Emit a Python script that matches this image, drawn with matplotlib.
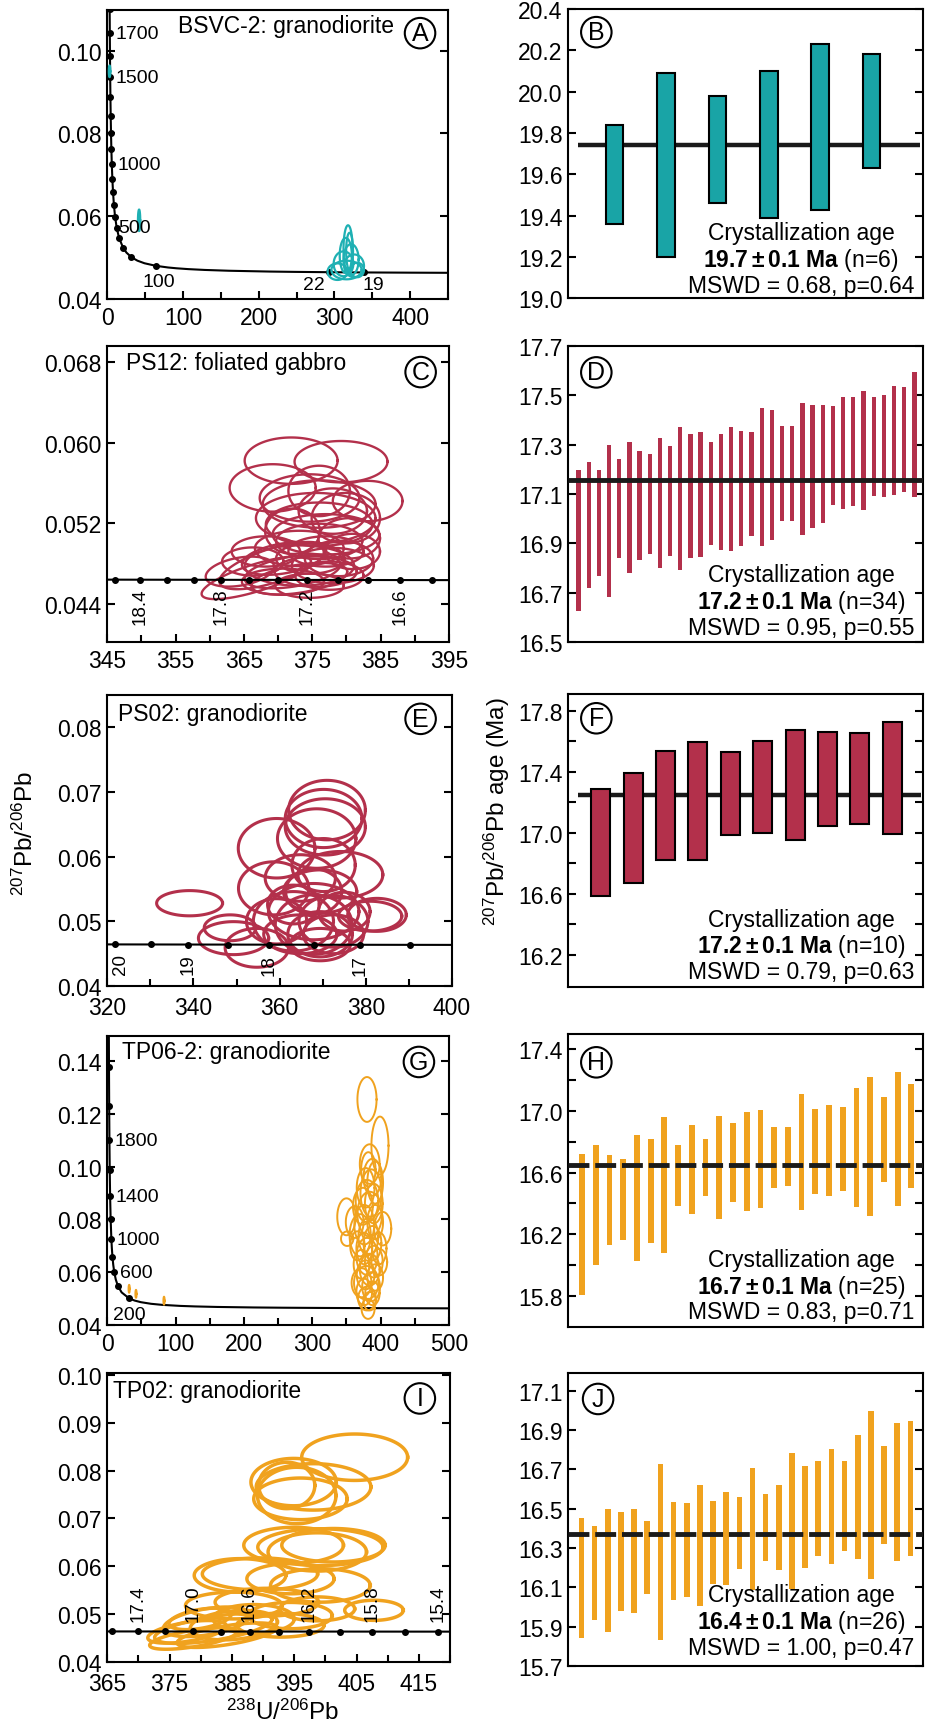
import matplotlib.pyplot as plt
import numpy as np
from matplotlib.ticker import FixedLocator

plt.rcParams['font.family'] = ['Liberation Sans', 'DejaVu Sans']
plt.rcParams['mathtext.fontset'] = 'custom'
plt.rcParams['mathtext.rm'] = 'Liberation Sans'
plt.rcParams['mathtext.it'] = 'Liberation Sans:italic'
plt.rcParams['mathtext.bf'] = 'Liberation Sans:bold'

TEAL = '#19a4a6'
RED = '#b3304b'
ORANGE = '#f0a21e'

# decay constants -> Tera-Wasserburg concordia
L238 = 1.55125e-10
L235 = 9.8485e-10
U85 = 137.88


def tw(ages):
    t = np.asarray(ages, dtype=float) * 1e6
    e8 = np.expm1(L238 * t)
    return 1 / e8, np.expm1(L235 * t) / e8 / U85


# ---------------- data ----------------
# A: BSVC-2
a_curve = [14, 16, 19, 22, 26, 30, 40, 50, 60, 70, 80, 100, 130, 160, 200, 250, 300, 400, 500,
           600, 700, 800, 900, 1000, 1100, 1200, 1300, 1400, 1500, 1600, 1700, 1800, 1900, 2000]
a_dots = [19, 22, 100, 200, 300, 400, 500, 600, 700, 800, 900, 1000, 1100, 1200, 1300, 1400,
          1500, 1600, 1700, 1800]
a_ell = [(318, 0.0520, 12, 0.0116, 0), (320, 0.0515, 9, 0.0090, 0), (315, 0.0505, 16, 0.0085, 0),
         (322, 0.0495, 20, 0.0075, 0), (312, 0.0485, 26, 0.0060, 0), (326, 0.0480, 26, 0.0055, 0),
         (304, 0.0466, 26, 0.0040, 0), (316, 0.0470, 40, 0.0045, 0), (330, 0.0470, 18, 0.0035, 0),
         (42, 0.0590, 3, 0.0052, 0), (3, 0.0950, 2, 0.0028, 0)]
a_xticks = [0, 100, 200, 300, 400]
a_xminor = [50, 150, 250, 350, 450]
a_yticks = [0.04, 0.06, 0.08, 0.10]

# B
b_top = [19.84, 20.09, 19.98, 20.10, 20.23, 20.18]
b_bot = [19.36, 19.20, 19.46, 19.39, 19.43, 19.63]
b_mean = 19.74
b_yticks = [19.0, 19.2, 19.4, 19.6, 19.8, 20.0, 20.2, 20.4]

# C: PS12
c_curve = [18.8, 18.6, 18.4, 18.2, 18.0, 17.8, 17.6, 17.4, 17.2, 17.0, 16.8, 16.6, 16.4, 16.2]
c_dots = [18.6, 18.4, 18.2, 18.0, 17.8, 17.6, 17.4, 17.2, 17.0, 16.8, 16.6, 16.4]
c_ell = [(371.9, 0.0582, 13.6, 0.0046, 0), (379.2, 0.0581, 13.6, 0.0041, 0),
         (369.2, 0.0555, 12.6, 0.0047, 0), (383.1, 0.0542, 10.2, 0.0040, 0),
         (374.6, 0.0545, 14.6, 0.0047, 0), (376.0, 0.0539, 16.5, 0.0047, 0),
         (375.5, 0.0525, 17.5, 0.0050, 0), (376.0, 0.0519, 15.6, 0.0043, 0),
         (377.0, 0.0509, 15.6, 0.0040, 0), (376.0, 0.0502, 12.6, 0.0035, 0),
         (373.1, 0.0495, 13.0, 0.0035, 0), (377.0, 0.0492, 11.0, 0.0030, 0),
         (369.2, 0.0478, 15.6, 0.0035, 0.0002), (366.8, 0.0466, 16.0, 0.0028, 0.0002),
         (372.1, 0.0472, 14.0, 0.0030, 0.0001), (373.1, 0.0465, 14.0, 0.0028, 0.0001),
         (375.5, 0.0472, 12.0, 0.0030, 0), (378.0, 0.0478, 12.0, 0.0035, 0),
         (378.9, 0.0485, 10.0, 0.0035, 0), (370.7, 0.0485, 12.0, 0.0030, 0.0001),
         (364.4, 0.0472, 10.0, 0.0028, 0.0001), (373.1, 0.0478, 16.0, 0.0040, 0),
         (370.7, 0.0462, 12.0, 0.0026, 0), (374.6, 0.0458, 10.0, 0.0024, 0),
         (380.4, 0.0505, 9.0, 0.0040, 0), (378.0, 0.0532, 10.0, 0.0045, 0),
         (376.0, 0.0552, 9.0, 0.0050, 0), (379.9, 0.0525, 10.0, 0.0050, 0),
         (372.1, 0.0512, 8.0, 0.0045, 0), (368.2, 0.0492, 10.0, 0.0030, 0),
         (380.9, 0.0492, 8.0, 0.0035, 0), (374.7, 0.0485, 10.0, 0.0030, 0),
         (366.3, 0.0482, 9.0, 0.0028, 0), (377.5, 0.0468, 10.0, 0.0028, 0)]
c_xticks = [345, 355, 365, 375, 385, 395]
c_xminor = [350, 360, 370, 380, 390]
c_yticks = [0.044, 0.052, 0.060, 0.068]

# D
d_top = [17.197, 17.231, 17.198, 17.298, 17.241, 17.311, 17.272, 17.262, 17.326, 17.295,
         17.373, 17.341, 17.349, 17.309, 17.341, 17.372, 17.355, 17.352, 17.446, 17.441,
         17.376, 17.376, 17.468, 17.461, 17.460, 17.457, 17.492, 17.492, 17.515, 17.492,
         17.500, 17.538, 17.534, 17.592]
d_bot = [16.628, 16.718, 16.770, 16.682, 16.840, 16.779, 16.834, 16.857, 16.799, 16.850,
         16.793, 16.840, 16.846, 16.895, 16.875, 16.868, 16.891, 16.929, 16.891, 16.915,
         16.989, 16.992, 16.934, 16.962, 16.981, 17.057, 17.039, 17.053, 17.035, 17.093,
         17.086, 17.097, 17.107, 17.086]
d_mean = 17.156
d_yticks = [16.5, 16.7, 16.9, 17.1, 17.3, 17.5, 17.7]

# E: PS02
e_curve = [20.2, 20.0, 19.5, 19.0, 18.5, 18.0, 17.5, 17.0, 16.5, 16.0]
e_dots = [20.0, 19.5, 19.0, 18.5, 18.0, 17.5, 17.0, 16.5]
e_ell = [(339.1, 0.0528, 15.3, 0.0039, 0), (371.0, 0.0672, 17.8, 0.0092, 0),
         (370.2, 0.0659, 17.8, 0.0090, 0), (370.6, 0.0646, 18.6, 0.0087, 0),
         (368.6, 0.0628, 18.2, 0.0092, 0), (359.3, 0.0613, 17.8, 0.0092, 0),
         (370.2, 0.0587, 14.7, 0.0082, 0), (374.1, 0.0572, 19.7, 0.0072, 0),
         (358.6, 0.0551, 16.3, 0.0082, 0), (364.8, 0.0567, 16.3, 0.0072, 0),
         (369.4, 0.0546, 17.0, 0.0067, 0), (367.9, 0.0515, 21.0, 0.0087, 0),
         (382.6, 0.0510, 13.6, 0.0051, 0), (381.0, 0.0508, 14.7, 0.0046, 0),
         (349.3, 0.0474, 16.3, 0.0051, 0), (348.5, 0.0490, 12.0, 0.0040, 0),
         (354.7, 0.0459, 14.7, 0.0060, 0), (363.2, 0.0500, 18.6, 0.0092, 0),
         (367.9, 0.0495, 17.8, 0.0092, 0), (372.5, 0.0500, 16.0, 0.0080, 0),
         (364.8, 0.0480, 17.0, 0.0060, 0), (369.4, 0.0480, 15.0, 0.0070, 0),
         (359.3, 0.0500, 14.0, 0.0070, 0), (372.5, 0.0480, 14.0, 0.0060, 0),
         (367.9, 0.0546, 13.0, 0.0070, 0), (375.0, 0.0515, 12.0, 0.0060, 0),
         (363.2, 0.0526, 12.0, 0.0060, 0), (369.4, 0.0464, 14.0, 0.0050, 0)]
e_xticks = [320, 340, 360, 380, 400]
e_xminor = [330, 350, 370, 390]
e_yticks = [0.04, 0.05, 0.06, 0.07, 0.08]

# F
f_top = [17.289, 17.395, 17.539, 17.598, 17.532, 17.604, 17.676, 17.661, 17.656, 17.728]
f_bot = [16.588, 16.670, 16.825, 16.825, 16.984, 17.001, 16.953, 17.045, 17.056, 16.990]
f_mean = 17.245
f_yticks = [16.2, 16.6, 17.0, 17.4, 17.8]
f_yminor = [16.4, 16.8, 17.2, 17.6]

# G: TP06-2
g_curve = [12.8, 14, 16, 18, 20, 25, 30, 40, 50, 60, 80, 100, 130, 160, 200, 300, 400, 500, 600,
           700, 800, 900, 1000, 1200, 1400, 1600, 1800, 2000, 2200, 2400, 2600]
g_dots = [200, 400, 600, 800, 1000, 1200, 1400, 1600, 1800, 2000, 2200]
g_ell = [(380, 0.1255, 28, 0.0170, 0), (399, 0.1080, 25, 0.0220, 0), (384, 0.1010, 29, 0.0150, 0),
         (388, 0.0960, 26, 0.0140, 0), (382, 0.0990, 21, 0.0130, 0), (392, 0.0940, 23, 0.0160, 0),
         (378, 0.0920, 26, 0.0150, 0), (386, 0.0900, 31, 0.0180, 0), (380, 0.0870, 33, 0.0160, 0),
         (374, 0.0850, 29, 0.0140, 0), (390, 0.0860, 26, 0.0150, 0), (350, 0.0810, 27, 0.0140, 0),
         (362, 0.0790, 26, 0.0120, 0), (384, 0.0820, 36, 0.0170, 0), (376, 0.0780, 29, 0.0150, 0),
         (392, 0.0790, 23, 0.0130, 0), (403, 0.0765, 25, 0.0127, 0), (351, 0.0727, 18, 0.0055, 0),
         (370, 0.0740, 31, 0.0160, 0), (382, 0.0735, 29, 0.0140, 0), (388, 0.0710, 26, 0.0130, 0),
         (376, 0.0690, 23, 0.0120, 0), (366, 0.0700, 21, 0.0110, 0), (398, 0.0690, 21, 0.0120, 0),
         (380, 0.0660, 31, 0.0140, 0), (390, 0.0640, 26, 0.0120, 0), (398, 0.0638, 23, 0.0100, 0),
         (372, 0.0630, 23, 0.0110, 0), (384, 0.0610, 29, 0.0120, 0), (378, 0.0590, 26, 0.0110, 0),
         (392, 0.0580, 23, 0.0100, 0), (372, 0.0560, 29, 0.0110, 0), (379, 0.0560, 36, 0.0127, 0),
         (386, 0.0545, 26, 0.0110, 0), (376, 0.0525, 23, 0.0100, 0), (388, 0.0520, 21, 0.0090, 0),
         (380, 0.0500, 26, 0.0090, 0), (384, 0.0490, 18, 0.0070, 0), (381.6, 0.0461, 19, 0.0076, 0),
         (32, 0.0537, 1.8, 0.0030, 0), (42, 0.0518, 1.8, 0.0030, 0), (83, 0.0492, 1.8, 0.0030, 0)]
g_xticks = [0, 100, 200, 300, 400, 500]
g_xminor = [50, 150, 250, 350, 450]
g_yticks = [0.04, 0.06, 0.08, 0.10, 0.12, 0.14]

# H
h_top = [16.721, 16.778, 16.713, 16.689, 16.847, 16.819, 16.962, 16.776, 16.906, 16.819,
         16.966, 16.919, 16.995, 17.005, 16.897, 16.893, 17.107, 17.014, 17.036, 17.025,
         17.151, 17.220, 17.090, 17.255, 17.172]
h_bot = [15.807, 15.997, 16.127, 16.160, 16.028, 16.143, 16.078, 16.385, 16.331, 16.450,
         16.301, 16.407, 16.349, 16.370, 16.500, 16.511, 16.355, 16.461, 16.450, 16.479,
         16.375, 16.316, 16.539, 16.381, 16.500]
h_mean = 16.646
h_yticks = [15.8, 16.2, 16.6, 17.0, 17.4]
h_yminor = [16.0, 16.4, 16.8, 17.2]

# I: TP02
i_curve = [17.7, 17.6, 17.4, 17.2, 17.0, 16.8, 16.6, 16.4, 16.2, 16.0, 15.8, 15.6, 15.4, 15.3]
i_dots = [17.6, 17.4, 17.2, 17.0, 16.8, 16.6, 16.4, 16.2, 16.0, 15.8, 15.6, 15.4]
i_ell = [(404.7, 0.0828, 17.0, 0.0097, 0), (394.9, 0.0776, 13.7, 0.0099, 0),
         (398.1, 0.0766, 18.4, 0.0097, 0), (396.0, 0.0741, 15.0, 0.0087, 0),
         (395.4, 0.0748, 12.6, 0.0118, 0), (393.8, 0.0769, 9.0, 0.0097, 0),
         (399.2, 0.0640, 20.1, 0.0077, 0), (401.3, 0.0644, 16.6, 0.0070, 0),
         (398.7, 0.0630, 15.8, 0.0080, 0), (394.9, 0.0644, 16.0, 0.0075, 0),
         (386.3, 0.0581, 14.7, 0.0070, 0), (389.5, 0.0584, 18.5, 0.0067, 0),
         (394.4, 0.0574, 14.0, 0.0063, 0), (399.2, 0.0560, 16.0, 0.0070, 0),
         (407.8, 0.0508, 9.4, 0.0042, 0), (385.3, 0.0518, 15.5, 0.0056, 0),
         (390.6, 0.0525, 16.6, 0.0058, 0), (394.4, 0.0497, 13.4, 0.0055, 0),
         (381.0, 0.0484, 14.0, 0.0055, 0.0002), (382.0, 0.0470, 18.8, 0.0050, 0.0002),
         (377.8, 0.0463, 12.6, 0.0040, 0.0002), (385.3, 0.0477, 14.0, 0.0060, 0.0001),
         (388.5, 0.0490, 13.0, 0.0060, 0), (398.7, 0.0511, 12.0, 0.0050, 0),
         (392.8, 0.0477, 14.0, 0.0050, 0), (379.9, 0.0490, 10.0, 0.0040, 0.0002),
         (384.2, 0.0456, 16.0, 0.0040, 0.0002), (378.8, 0.0449, 14.0, 0.0035, 0.0002)]
i_xticks = [365, 375, 385, 395, 405, 415]
i_xminor = [370, 380, 390, 400, 410, 420]
i_yticks = [0.04, 0.05, 0.06, 0.07, 0.08, 0.09, 0.10]

# J
j_top = [16.453, 16.411, 16.501, 16.482, 16.498, 16.440, 16.729, 16.533, 16.528, 16.622,
         16.540, 16.586, 16.562, 16.709, 16.574, 16.623, 16.782, 16.720, 16.744, 16.805,
         16.744, 16.875, 16.998, 16.822, 16.938, 16.945]
j_bot = [15.843, 15.936, 15.872, 15.982, 15.969, 16.067, 15.834, 16.038, 16.050, 16.003,
         16.118, 16.110, 16.191, 16.084, 16.232, 16.190, 16.093, 16.200, 16.258, 16.217,
         16.285, 16.243, 16.144, 16.322, 16.232, 16.260]
j_mean = 16.373
j_yticks = [15.7, 15.9, 16.1, 16.3, 16.5, 16.7, 16.9, 17.1]

# ---------------- figure ----------------
fig = plt.figure(figsize=(9.25, 17.24), dpi=100)
FS = 16.5


def frame(ax):
    for s in ax.spines.values():
        s.set_linewidth(1.5)
    ax.tick_params(which='both', direction='in', labelsize=FS, width=1.5, pad=4)
    ax.tick_params(which='major', length=6)
    ax.tick_params(which='minor', length=5)


def scatter_panel(rect, curve, dots, ells, color, lw, xlim, ylim, xt, xm, yt, fmt, curve_top,
                  xpad=5):
    ax = fig.add_axes(rect)
    frame(ax)
    cx, cy = tw(curve)
    zc = 5 if curve_top else 2
    ax.plot(cx, cy, color='black', lw=1.5, zorder=zc)
    dx, dy = tw(dots)
    ax.plot(dx, dy, 'o', color='black', ms=4, zorder=zc)
    t = np.linspace(0, 2 * np.pi, 120)
    for x0, y0, w, h, k in ells:
        ex = w / 2 * np.cos(t)
        ax.plot(x0 + ex, y0 + h / 2 * np.sin(t) + k * ex, color=color, lw=lw, zorder=4)
    ax.set_xlim(xlim)
    ax.set_ylim(ylim)
    ax.xaxis.set_major_locator(FixedLocator(xt))
    ax.xaxis.set_minor_locator(FixedLocator(xm))
    ax.set_xticklabels([str(v) for v in xt])
    ax.yaxis.set_major_locator(FixedLocator(yt))
    ax.set_yticklabels([fmt.format(v) for v in yt])
    ax.tick_params(left=True, right=True, top=False, bottom=True, which='both')
    ax.tick_params(axis='x', pad=xpad)
    return ax


def bar_panel(rect, top, bot, mean, color, width, xlim, ylim, yt, ym, boxed, dashed, line_from):
    ax = fig.add_axes(rect)
    frame(ax)
    top = np.array(top)
    bot = np.array(bot)
    x = np.arange(1, len(top) + 1)
    if boxed:
        ax.bar(x, top - bot, bottom=bot, width=width, color=color, edgecolor='black',
               linewidth=1.5, zorder=3)
        ax.hlines(mean, line_from, xlim[1] - 0.05, color='#1a1a1a', lw=3.2, zorder=2)
    else:
        ax.bar(x, top - bot, bottom=bot, width=width, color=color, linewidth=0, zorder=2)
        ls = (0, (4.3, 1.2)) if dashed else '-'
        ax.hlines(mean, xlim[0], xlim[1], color='#1a1a1a', lw=3.5, linestyle=ls, zorder=3)
    ax.set_xlim(xlim)
    ax.set_ylim(ylim)
    ax.set_xticks([])
    ax.yaxis.set_major_locator(FixedLocator(yt))
    ax.yaxis.set_minor_locator(FixedLocator(ym))
    ax.set_yticklabels(['{:.1f}'.format(v) for v in yt])
    ax.tick_params(left=True, right=True, which='both')
    ax.tick_params(which='minor', length=6)
    return ax


def circ(ax, s, x, y):
    ax.text(x, y, s, transform=ax.transAxes, ha='center', va='center', fontsize=18,
            bbox=dict(boxstyle='circle,pad=0.13', fc='none', ec='black', lw=1.5), zorder=10)


def title(ax, s, x, y):
    ax.text(x, y, s, transform=ax.transAxes, ha='left', va='center', fontsize=FS, zorder=10)


def age_block(ax, ys, age, n, mswd):
    ax.text(0.656, ys[0], 'Crystallization age', transform=ax.transAxes, ha='center',
            va='center', fontsize=FS, zorder=10)
    ax.text(0.656, ys[1], r'$\mathbf{' + age + r' \pm 0.1\ Ma}$ (n=' + n + ')',
            transform=ax.transAxes, ha='center', va='center', fontsize=FS, zorder=10)
    ax.text(0.656, ys[2], mswd, transform=ax.transAxes, ha='center', va='center',
            fontsize=FS, zorder=10)


def age_labels(ax, items, size, rot=0):
    for age, dx, dy, ha in items:
        x, y = tw(age)
        ax.annotate(str(age), xy=(x, y), xytext=(dx, dy), textcoords='offset points',
                    ha=ha, va='center', fontsize=size, rotation=rot, zorder=6)


L = 107.3 / 925
R = 568.3 / 925

# A
axA = scatter_panel([L, 0.8260, 0.3683, 0.1676], a_curve, a_dots, a_ell, '#1eb0b3', 1.6,
                    (0, 450), (0.04, 0.1098), a_xticks, a_xminor, a_yticks, '{:.2f}', False)
age_labels(axA, [(1700, 4, 0, 'left'), (1500, 4, 0, 'left'), (1000, 4, 0, 'left'),
                 (500, 1, 0, 'left'), (100, 2.5, -11.5, 'center'), (22, -11, -8.5, 'center'),
                 (19, 7, -8.5, 'center')], 14)
title(axA, 'BSVC-2: granodiorite', 0.208, 0.945)
circ(axA, 'A', 0.918, 0.92)

# B
axB = bar_panel([R, 0.8263, 0.3835, 0.1679], b_top, b_bot, b_mean, TEAL, 0.34, (0.1, 7.0),
                (19.0, 20.4), b_yticks, [], True, False, 0.29)
circ(axB, 'B', 0.079, 0.92)
age_block(axB, (0.228, 0.135, 0.045), '19.7', '6', 'MSWD = 0.68, p=0.64')

# C
axC = scatter_panel([L, 0.6269, 0.3694, 0.1720], c_curve, c_dots, c_ell, RED, 1.7,
                    (345, 395), (0.0402, 0.0696), c_xticks, c_xminor, c_yticks, '{:.3f}', True)
age_labels(axC, [(18.4, 0, -18.5, 'center'), (17.8, 0, -18.5, 'center'),
                 (17.2, 0, -18.5, 'center'), (16.6, 0, -18.5, 'center')], 13.5, rot=90)
title(axC, 'PS12: foliated gabbro', 0.055, 0.945)
circ(axC, 'C', 0.917, 0.911)

# D
axD = bar_panel([R, 0.6269, 0.3835, 0.1720], d_top, d_bot, d_mean, RED, 0.42, (0, 34.85),
                (16.5, 17.7), d_yticks, [], False, False, 0)
circ(axD, 'D', 0.079, 0.91)
age_block(axD, (0.227, 0.137, 0.051), '17.2', '34', 'MSWD = 0.95, p=0.55')

# E
axE = scatter_panel([L, 0.4275, 0.3726, 0.1688], e_curve, e_dots, e_ell, RED, 2.2,
                    (320, 400), (0.04, 0.085), e_xticks, e_xminor, e_yticks, '{:.2f}', True,
                    xpad=7)
age_labels(axE, [(20, 3.5, -14, 'center'), (19, 0, -14, 'center'), (18, 0, -14, 'center'),
                 (17, 0, -14, 'center')], 13.5, rot=90)
title(axE, 'PS02: granodiorite', 0.032, 0.935)
circ(axE, 'E', 0.909, 0.918)

# F
axF = bar_panel([R, 0.4269, 0.3835, 0.1700], f_top, f_bot, f_mean, RED, 0.59, (0, 10.95),
                (15.99, 17.91), f_yticks, f_yminor, True, False, 0.31)
circ(axF, 'F', 0.079, 0.917)
age_block(axF, (0.229, 0.141, 0.053), '17.2', '10', 'MSWD = 0.79, p=0.63')

# G
axG = scatter_panel([L, 0.2309, 0.3694, 0.1678], g_curve, g_dots, g_ell, ORANGE, 1.4,
                    (0, 500), (0.04, 0.1497), g_xticks, g_xminor, g_yticks, '{:.2f}', False)
age_labels(axG, [(1800, 4, 0, 'left'), (1400, 4, 0, 'left'), (1000, 4, 0, 'left'),
                 (600, 4, 0, 'left'), (200, 0, -12, 'center')], 14)
title(axG, 'TP06-2: granodiorite', 0.042, 0.944)
circ(axG, 'G', 0.912, 0.909)

# H
axH = bar_panel([R, 0.2299, 0.3835, 0.1698], h_top, h_bot, h_mean, ORANGE, 0.42, (0, 25.85),
                (15.6, 17.5), h_yticks, h_yminor, False, True, 0)
circ(axH, 'H', 0.079, 0.903)
age_block(axH, (0.229, 0.138, 0.053), '16.7', '25', 'MSWD = 0.83, p=0.71')

# I
axI = scatter_panel([L, 0.0354, 0.3705, 0.1676], i_curve, i_dots, i_ell, ORANGE, 2.5,
                    (365, 420), (0.04, 0.1004), i_xticks, i_xminor, i_yticks, '{:.2f}', True,
                    xpad=7)
age_labels(axI, [(17.4, 0, 21, 'center'), (17.0, 0, 21, 'center'), (16.6, 0, 21, 'center'),
                 (16.2, 0, 21, 'center'), (15.8, 0, 21, 'center'), (15.4, 0, 21, 'center')],
           13.5, rot=90)
title(axI, 'TP02: granodiorite', 0.018, 0.939)
circ(axI, 'I', 0.912, 0.912)

# J
axJ = bar_panel([R, 0.0331, 0.3835, 0.1698], j_top, j_bot, j_mean, ORANGE, 0.43, (0, 26.96),
                (15.7, 17.19), j_yticks, [], False, True, 0)
circ(axJ, 'J', 0.084, 0.912)
age_block(axJ, (0.243, 0.151, 0.064), '16.4', '26', 'MSWD = 1.00, p=0.47')

# axis titles
fig.text(25 / 925, 1 - 833 / 1724, r'$^{207}$Pb/$^{206}$Pb', rotation=90, ha='center',
         va='center', fontsize=17.5)
fig.text(497 / 925, 1 - 812 / 1724, r'$^{207}$Pb/$^{206}$Pb age (Ma)', rotation=90,
         ha='center', va='center', fontsize=17.5)
fig.text(283 / 925, 1 - 1712 / 1724, r'$^{238}$U/$^{206}$Pb', ha='center', va='center',
         fontsize=17.5)

fig.savefig('out.png', dpi=100)
